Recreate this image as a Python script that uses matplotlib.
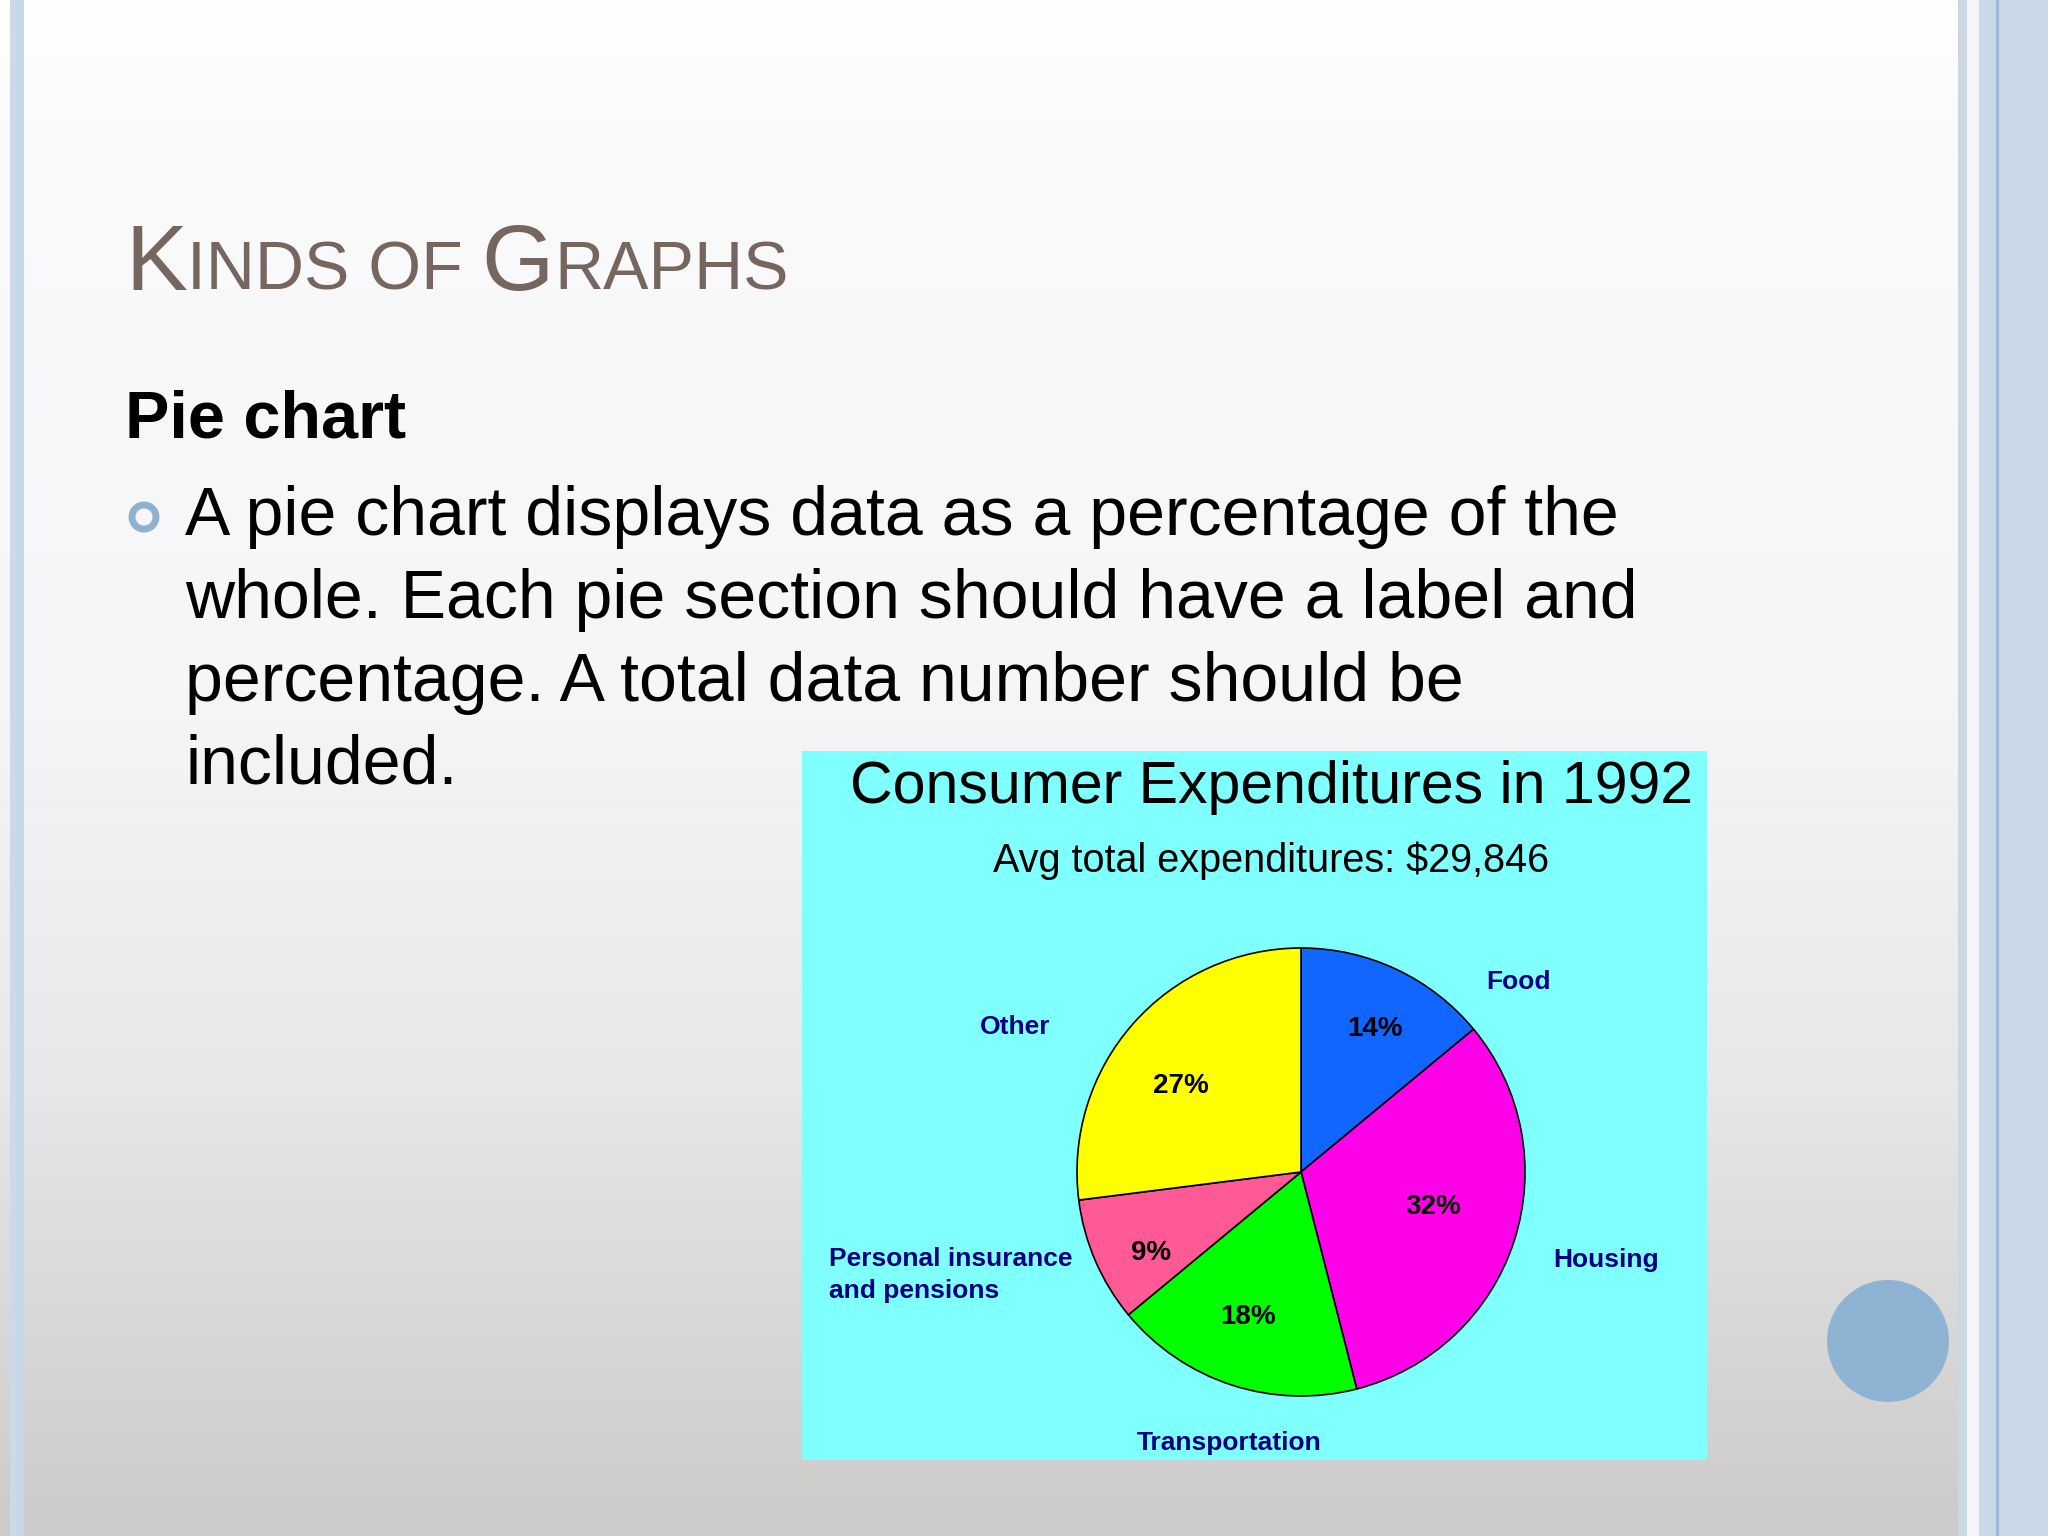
import numpy as np
import matplotlib.pyplot as plt
from matplotlib.patches import Rectangle, Circle

# --- data ---
categories = ['Food', 'Housing', 'Transportation', 'Personal insurance\nand pensions', 'Other']
shares = [14, 32, 18, 9, 27]
colors = ['#1166ff', '#ff00e8', '#00ff00', '#ff5a96', '#ffff00']

chart_title = 'Consumer Expenditures in 1992'
chart_sub = 'Avg total expenditures: $29,846'
bullet_lines = ['A pie chart displays data as a percentage of the',
                'whole. Each pie section should have a label and',
                'percentage. A total data number should be',
                'included.']

W, H = 2048, 1536
fig = plt.figure(figsize=(W / 100, H / 100), dpi=100)

# slide background gradient
bg = fig.add_axes([0, 0, 1, 1])
stops_y = [0.0, 0.1, 0.45, 0.7, 1.0]
stops_c = np.array([[255, 255, 255], [251, 250, 251], [246, 245, 247],
                    [232, 231, 233], [204, 203, 201]]) / 255
yy = np.linspace(0, 1, 400)
grad = np.stack([np.interp(yy, stops_y, stops_c[:, k]) for k in range(3)], axis=-1)
bg.imshow(grad[:, None, :], aspect='auto', extent=[0, W, H, 0])
bg.set_xlim(0, W)
bg.set_ylim(H, 0)
bg.axis('off')

# border stripes
def stripe(x0, x1, c):
    bg.add_patch(Rectangle((x0, 0), x1 - x0, H, color=c, lw=0))

stripe(10, 16, '#cdd9e6')
stripe(16, 24, '#c5d6e6')
stripe(1958, 1967, '#cbd7e3')
stripe(1967, 1979, '#f4f6f9')
stripe(1979, 1997, '#cad9e8')
stripe(1996, 1999, '#9bb8d6')
stripe(1999, 2048, '#c9d8e7')

# round decoration
bg.add_patch(Circle((1888, 1341), 61, color='#8fb3d3', lw=0))

# slide title in small caps, pieces chained left to right
renderer = fig.canvas.get_renderer()
x = 125
for piece, size in [('K', 67), ('INDS OF ', 49), ('G', 67), ('RAPHS', 49)]:
    t = bg.text(x, 290, piece, fontsize=size, color='#75665f', family='Liberation Sans')
    x += t.get_window_extent(renderer).width

bg.text(125, 437, 'Pie chart', fontsize=48, fontweight='bold', color='black',
        family='Liberation Sans')
bg.add_patch(Circle((144, 517), 12, fill=False, ec='#8fb2d0', lw=5))
for i, line in enumerate(bullet_lines):
    bg.text(185, 535 + i * 83, line, fontsize=49, color='black', family='Liberation Sans')

# chart box, 1 data unit = pie radius = 224 px
cx, cy, r = 1301, 1172, 224
bx0, bx1, by0, by1 = 802, 1707, 751, 1460
ax = fig.add_axes([bx0 / W, 1 - by1 / H, (bx1 - bx0) / W, (by1 - by0) / H])
wedges, _ = ax.pie(shares, colors=colors, startangle=90, counterclock=False,
                   wedgeprops=dict(edgecolor='black', linewidth=1.2))
ax.set_frame_on(True)
ax.set_facecolor('#80ffff')
ax.set_xlim((bx0 - cx) / r, (bx1 - cx) / r)
ax.set_ylim((cy - by1) / r, (cy - by0) / r)
ax.set_aspect('equal')
for s in ax.spines.values():
    s.set_visible(False)
ax.set_xticks([])
ax.set_yticks([])

ax.text((1272 - cx) / r, (cy - 803) / r, chart_title, fontsize=42.5, ha='center',
        va='baseline', family='Liberation Sans')
ax.text((1271 - cx) / r, (cy - 872) / r, chart_sub, fontsize=28.5, ha='center',
        va='baseline', family='Liberation Sans')

# percentage labels (radius fraction, angle shift from wedge middle)
pct_place = [(0.72, -2), (0.61, 3), (0.69, -2), (0.76, 5), (0.66, 6)]
for w, s, (d, shift) in zip(wedges, shares, pct_place):
    a = np.deg2rad((w.theta1 + w.theta2) / 2 + shift)
    ax.text(d * np.cos(a), d * np.sin(a), f'{s}%', fontsize=20, fontweight='bold',
            ha='center', va='center', family='Liberation Sans')

# category labels
label_pos = [(1519, 982, 'center'), (1606, 1260, 'center'), (1229, 1443, 'center'),
             (829, 1275, 'left'), (1015, 1027, 'center')]
for name, (px, py, ha) in zip(categories, label_pos):
    ax.text((px - cx) / r, (cy - py) / r, name, fontsize=19, color='#000080',
            ha=ha, va='center', family='Liberation Sans', fontweight='bold',
            linespacing=1.4)

fig.savefig('out.png', dpi=100)
